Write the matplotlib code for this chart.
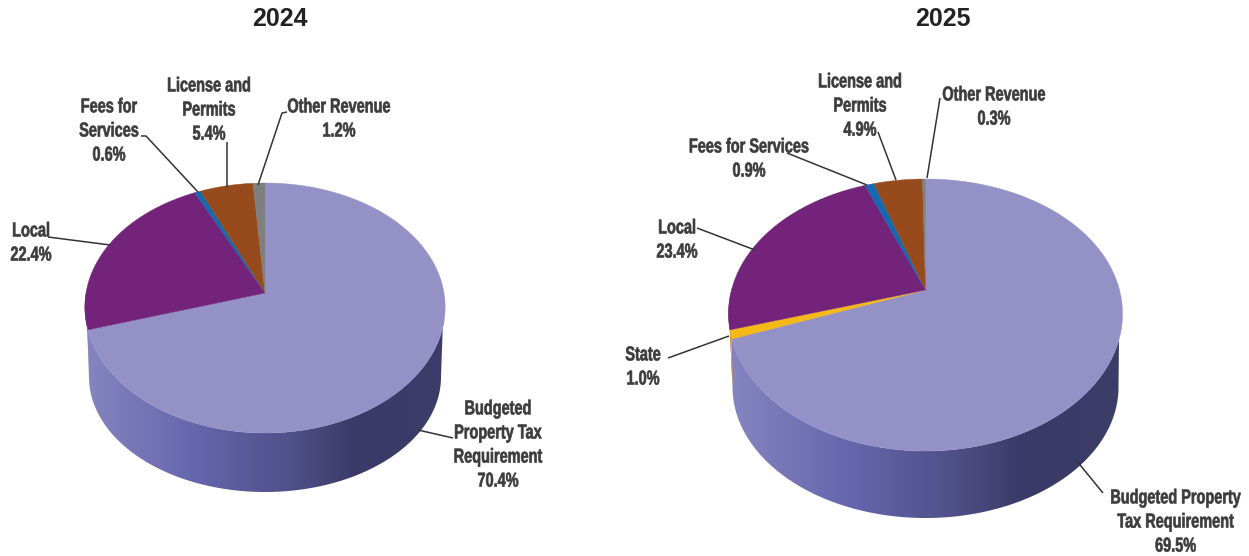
import numpy as np
import matplotlib
matplotlib.use('Agg')
import matplotlib.pyplot as plt
import matplotlib.patheffects as pe
from matplotlib.colors import LinearSegmentedColormap
from matplotlib.patches import Polygon
from matplotlib.transforms import Affine2D

# values, clockwise from 12 o'clock
labels_2024 = ['Budgeted\nProperty Tax\nRequirement\n70.4%', 'Local\n22.4%', 'Fees for\nServices\n0.6%',
               'License and\nPermits\n5.4%', 'Other Revenue\n1.2%']
values_2024 = [70.4, 22.4, 0.6, 5.4, 1.2]
colors_2024 = ['#9391c6', '#73247a', '#1469b0', '#974a1c', '#7f7f7f']

labels_2025 = ['Budgeted Property\nTax Requirement\n69.5%', 'State\n1.0%', 'Local\n23.4%',
               'Fees for Services\n0.9%', 'License and\nPermits\n4.9%', 'Other Revenue\n0.3%']
values_2025 = [69.5, 1.0, 23.4, 0.9, 4.9, 0.3]
colors_2025 = ['#9391c6', '#f4b818', '#73247a', '#1469b0', '#974a1c', '#7f7f7f']

wall_cmap = LinearSegmentedColormap.from_list('wall', [(0, '#8585c0'), (0.3, '#6666ad'), (0.58, '#4f4f88'),
                                                       (0.75, '#3a3a68'), (1, '#3d3d6a')])
text_color = '#3c3c3c'
squeeze_x = 0.72

fig = plt.figure(figsize=(12.49, 5.56), dpi=100)
ax = fig.add_axes([0, 0, 1, 1])


class Squeeze(pe.AbstractPathEffect):
    # narrow the glyphs about the label anchor, no condensed font is installed
    def __init__(self, cx, sx):
        super().__init__()
        self.cx = cx
        self.sx = sx

    def draw_path(self, renderer, gc, tpath, affine, rgbFace=None):
        squeeze = Affine2D().translate(-self.cx, 0).scale(self.sx, 1).translate(self.cx, 0)
        gc0 = renderer.new_gc()
        gc0.copy_properties(gc)
        gc0.set_linewidth(0.45)
        gc0.set_foreground(text_color)
        renderer.draw_path(gc0, tpath, affine + squeeze, rgbFace)
        gc0.restore()


def top_edge(t, g):
    x = g['cx'] + g['rx'] * np.sin(t) * (1 - g['p'] * np.cos(t))
    y = g['cy'] + g['k'] - g['ry'] * np.cos(t) - g['k'] * np.sin(t) ** 2
    return x, y


def bottom_edge(t, g):
    x = g['cx'] + g['rbx'] * np.sin(t)
    y = g['by'] - g['rby'] * np.cos(t)
    return x, y


def draw_pie(values, colors, g):
    edges = np.radians(np.cumsum([0] + values) * 3.6)
    # side wall first, only the front half can be seen
    t = np.linspace(np.pi / 2, edges[1], 300)
    tx, ty = top_edge(t, g)
    t2 = np.linspace(np.pi / 2, 1.5 * np.pi, 300)
    bx, by = bottom_edge(t2, g)
    pts = np.column_stack([np.r_[tx, bx[::-1]], np.r_[ty, by[::-1]]])
    patch = Polygon(pts, closed=True, facecolor='none', edgecolor='none')
    ax.add_patch(patch)
    img = ax.imshow(np.linspace(0, 1, 256)[None, :], cmap=wall_cmap, aspect='auto',
                    extent=(g['cx'] - g['rx'], g['cx'] + g['rx'], g['by'] + g['rby'], g['cy'] - g['ry']),
                    zorder=1)
    img.set_clip_path(patch)
    end_x, end_y = bottom_edge(1.5 * np.pi, g)
    for i in range(len(colors) - 1, 0, -1):
        a = edges[i]
        b = min(edges[i + 1], 1.5 * np.pi)
        if b <= a:
            continue
        x, y = top_edge(np.linspace(a, b, 60), g)
        pts = np.column_stack([np.r_[x, end_x], np.r_[y, end_y]])
        ax.add_patch(Polygon(pts, closed=True, facecolor=colors[i], edgecolor='none', zorder=1))
    # top face
    for i, c in enumerate(colors):
        t = np.linspace(edges[i], edges[i + 1], 200)
        x, y = top_edge(t, g)
        pts = np.column_stack([np.r_[g['cx'], x], np.r_[g['cy'], y]])
        ax.add_patch(Polygon(pts, closed=True, facecolor=c, edgecolor=c, linewidth=0.3, zorder=2))


def draw_labels(labels, spots, leaders):
    for lab, (x, y) in zip(labels, spots):
        # the label at the right edge hangs from its right side
        ha = 'right' if x > 1200 else 'center'
        ax.text(x, y, lab, ha=ha, va='center', multialignment='center', family='Liberation Sans',
                fontweight='bold', fontsize=14.5, color=text_color, linespacing=1.34, zorder=5,
                path_effects=[Squeeze(x, squeeze_x)])
    for xs, ys in leaders:
        ax.plot(xs, ys, color='#333333', lw=1.1, zorder=4, solid_capstyle='butt')


geo_2024 = dict(cx=265, cy=293, rx=179, ry=125, k=15, p=0.114, rbx=176, rby=115, by=377)
geo_2025 = dict(cx=925.5, cy=290, rx=194, ry=136, k=25, p=0.18, rbx=193, rby=131, by=387)

draw_pie(values_2024, colors_2024, geo_2024)
draw_pie(values_2025, colors_2025, geo_2025)

draw_labels(labels_2024,
            [(498, 445), (31, 243), (109, 131), (209, 110), (339, 119)],
            [([418, 453], [430, 438]), ([48, 110], [237, 245]), ([141, 146, 198], [136, 136, 192]),
             ([227, 227], [142, 187]), ([287, 282, 258], [112, 113, 185])])
draw_labels(labels_2025,
            [(1241, 522), (643, 367), (677, 240), (749, 159), (860, 106), (994, 107)],
            [([1076, 1103], [460, 493]), ([668, 729], [358, 336]), ([697, 755], [228, 250]),
             ([787, 867], [153, 185]), ([878, 896], [132, 180]), ([940, 927], [98, 178])])

ax.text(280, 19, '2024', ha='center', va='center', family='Liberation Sans', fontweight='bold', fontsize=18,
        color='#222222')
ax.text(943, 19, '2025', ha='center', va='center', family='Liberation Sans', fontweight='bold', fontsize=18,
        color='#222222')

ax.set_xlim(0, 1249)
ax.set_ylim(556, 0)
ax.axis('off')
fig.savefig('out.png', dpi=100)
